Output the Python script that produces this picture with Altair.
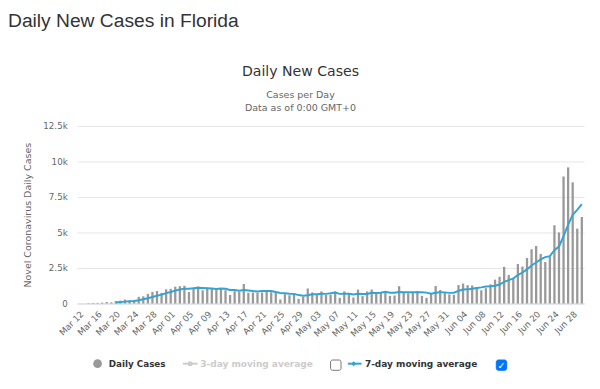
import altair as alt
import pandas as pd

# ---------------- data ----------------
days = pd.date_range("2020-03-12", "2020-06-30").strftime("%b %d").tolist()

cases_mar = [0, 0, 26, 39, 40, 61, 98, 76, 173, 200, 280, 200, 240, 470, 507, 680, 820, 880, 754, 1000]
cases_apr = [1032, 1180, 1220, 1250, 805, 1040, 1200, 930, 1100, 1050, 980, 1080, 930, 600, 860,
             820, 1380, 760, 780, 760, 780, 940, 800, 820, 280, 650, 580, 680, 330, 480]
cases_may = [1050, 780, 650, 850, 600, 620, 850, 400, 850, 650, 420, 980, 520, 850, 980, 730,
             800, 880, 540, 560, 1220, 800, 720, 800, 880, 540, 400, 700, 1230, 950, 780]
cases_jun = [640, 610, 1300, 1400, 1290, 1270, 1150, 930, 1080, 1350, 1680, 1880, 2580, 2000, 1760,
             2780, 2600, 3200, 3820, 4050, 3490, 2920, 3280, 5510, 5000, 8940, 9580, 8530, 5270, 6090]
cases = cases_mar + cases_apr + cases_may + cases_jun

tick_days = days[::4]
y_ticks = [0, 2500, 5000, 7500, 10000, 12500]

df = pd.DataFrame({"day": days, "cases": cases, "i": list(range(len(days)))})

FONT = "DejaVu Sans"
BAR = "#999999"
BLUE = "#33a3d4"

x_enc = alt.X(
    "day:N", sort=days,
    scale=alt.Scale(paddingInner=0.5, paddingOuter=0.25),
    axis=alt.Axis(values=tick_days, labelAngle=-45, labelAlign="right", labelBaseline="top",
                  labelPadding=6, ticks=False, domainColor="#ccd6eb", labelColor="#666666",
                  labelFont=FONT, labelFontSize=8.8, title=None, grid=False, labelOverlap=False),
)

y_axis = alt.Axis(values=y_ticks,
                  labelExpr="datum.value == 0 ? '0' : format(datum.value / 1000, '.1~f') + 'k'",
                  domain=False, ticks=False, gridColor="#e6e6e6", labelColor="#666666",
                  labelFont=FONT, labelFontSize=8.8, labelPadding=10,
                  title="Novel Coronavirus Daily Cases", titleFont=FONT, titleFontSize=9.6,
                  titleFontWeight="normal", titleColor="#666666", titleX=-50, titleY=90,
                  titleAlign="center", titleBaseline="middle")
y_scale = alt.Scale(domain=[0, 12500], nice=False)

base = alt.Chart(df)
bars = base.mark_bar(color=BAR).encode(
    x=x_enc, y=alt.Y("cases:Q", scale=y_scale, axis=y_axis))

line = base.transform_window(
    ma7="mean(cases)", frame=[-6, 0], sort=[alt.SortField("i")]
).transform_filter("datum.i >= 8").mark_line(color=BLUE, strokeWidth=2).encode(
    x=x_enc, y=alt.Y("ma7:Q", scale=y_scale, axis=y_axis))

one = alt.Data(values=[{}])


def txt(text, x, y, size, color, weight="normal", align="left", font=FONT):
    return alt.Chart(one).mark_text(
        text=text, fontSize=size, color=color, fontWeight=weight, align=align,
        baseline="alphabetic", font=font
    ).encode(x=alt.value(x), y=alt.value(y))


def rule(x1, x2, y, color):
    return alt.Chart(one).mark_rule(color=color, strokeWidth=2).encode(
        x=alt.value(x1), x2=alt.value(x2), y=alt.value(y))


def dot(x, y, size, color, shape="circle"):
    return alt.Chart(one).mark_point(shape=shape, filled=True, size=size, color=color,
                                     opacity=1).encode(x=alt.value(x), y=alt.value(y))


def box(x1, x2, y1, y2, fill, stroke):
    return alt.Chart(one).mark_rect(fill=fill, stroke=stroke, strokeWidth=1,
                                    cornerRadius=2).encode(
        x=alt.value(x1), x2=alt.value(x2), y=alt.value(y1), y2=alt.value(y2))


texts = [
    txt("Daily New Cases in Florida", -70, -100, 19.5, "#333333", font="Liberation Sans"),
    txt("Daily New Cases", 226.5, -51, 14.3, "#333333", align="center"),
    txt("Cases per Day", 226.5, -28.3, 9.6, "#666666", align="center"),
    txt("Data as of 0:00 GMT+0", 226.5, -15, 9.6, "#666666", align="center"),
]

legend = [
    dot(20.8, 241, 78, BAR),
    txt("Daily Cases", 32.2, 244.2, 8.9, "#333333", weight="bold"),
    rule(107.3, 122.2, 241, "#cccccc"),
    dot(114.6, 241, 26, "#cccccc"),
    txt("3-day moving average", 125, 244.2, 9.1, "#cccccc", weight="bold"),
    box(257, 267.6, 237.3, 247.7, "#ffffff", "#767676"),
    rule(274.5, 288.4, 241, BLUE),
    dot(280.4, 241, 26, BLUE, shape="diamond"),
    txt("7-day moving average", 291.8, 244.2, 9.1, "#333333", weight="bold"),
    box(425, 435.5, 237.3, 247.7, "#0075ff", "#0075ff"),
    txt("✓", 430.2, 246.3, 9.5, "#ffffff", weight="bold", align="center"),
]

chart = alt.layer(bars, line, *texts, *legend).properties(
    width=514, height=180,
    autosize=alt.AutoSizeParams(type="none"),
    padding={"left": 70, "top": 117, "right": 8, "bottom": 75},
).configure_view(stroke=None)

chart.save("out.html", embed_options={"renderer": "svg", "actions": False})
